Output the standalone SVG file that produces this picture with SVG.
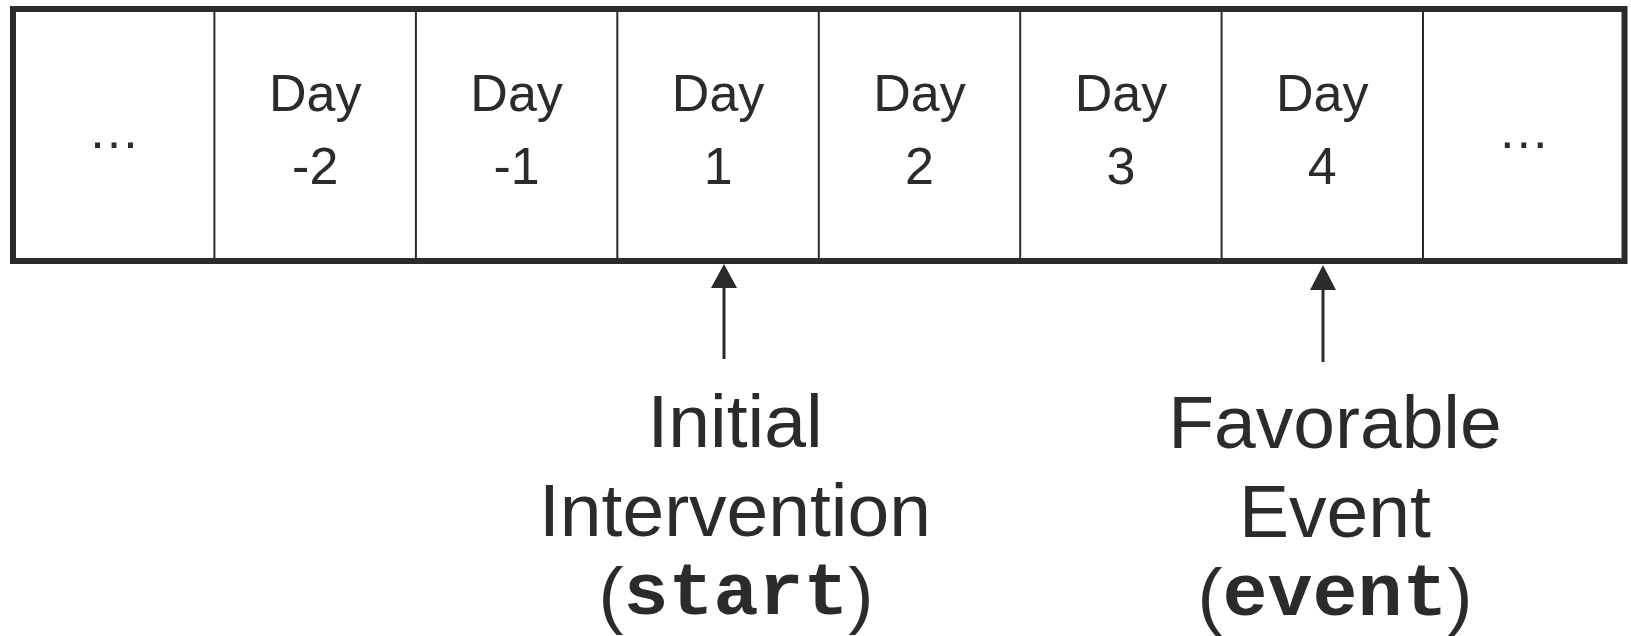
<svg xmlns="http://www.w3.org/2000/svg" width="1631" height="636" viewBox="0 0 1631 636">
<style>
.lbl{font-family:"Liberation Sans",Arial,sans-serif;fill:#2b2b2b;text-anchor:middle}
.day{font-size:52px}
.big{font-size:75px}
.code{font-family:"Courier New","Liberation Mono",monospace;font-weight:bold}
.div{stroke:#2b2b2b;stroke-width:2}
.conn{stroke:#2b2b2b;stroke-width:3;fill:none}
.head{fill:#2b2b2b}
</style>
<rect x="0" y="0" width="1631" height="636" fill="#ffffff"/>
<g id="timeline">
<rect x="13" y="9" width="1611.5" height="252" fill="#ffffff" stroke="#2b2b2b" stroke-width="6"/>
<line class="div" x1="214.4" y1="9" x2="214.4" y2="261"/>
<line class="div" x1="415.9" y1="9" x2="415.9" y2="261"/>
<line class="div" x1="617.3" y1="9" x2="617.3" y2="261"/>
<line class="div" x1="818.8" y1="9" x2="818.8" y2="261"/>
<line class="div" x1="1020.2" y1="9" x2="1020.2" y2="261"/>
<line class="div" x1="1221.6" y1="9" x2="1221.6" y2="261"/>
<line class="div" x1="1423" y1="9" x2="1423" y2="261"/>
</g>
<g id="cell-ellipsis-left"><text class="lbl day" x="114" y="148">…</text></g>
<g id="cell-day-m2"><text class="lbl day" x="315.2" y="111">Day</text><text class="lbl day" x="315.2" y="184">-2</text></g>
<g id="cell-day-m1"><text class="lbl day" x="516.6" y="111">Day</text><text class="lbl day" x="516.6" y="184">-1</text></g>
<g id="cell-day-1"><text class="lbl day" x="718.1" y="111">Day</text><text class="lbl day" x="718.1" y="184">1</text></g>
<g id="cell-day-2"><text class="lbl day" x="919.5" y="111">Day</text><text class="lbl day" x="919.5" y="184">2</text></g>
<g id="cell-day-3"><text class="lbl day" x="1120.9" y="111">Day</text><text class="lbl day" x="1120.9" y="184">3</text></g>
<g id="cell-day-4"><text class="lbl day" x="1322.3" y="111">Day</text><text class="lbl day" x="1322.3" y="184">4</text></g>
<g id="cell-ellipsis-right"><text class="lbl day" x="1523.8" y="148">…</text></g>
<g id="connectors">
<line class="conn" x1="724" y1="359" x2="724" y2="288"/>
<path class="head" d="M711,288 L724,264 L737,288 Z"/>
<line class="conn" x1="1323" y1="362" x2="1323" y2="290"/>
<path class="head" d="M1310,290 L1323,265 L1336,290 Z"/>
</g>
<g id="label-start">
<text class="lbl big" x="735" y="447">Initial</text>
<text class="lbl big" x="735" y="536">Intervention</text>
<text class="lbl big" x="736" y="620">(<tspan class="code" dy="-6">start</tspan><tspan dy="6">)</tspan></text>
</g>
<g id="label-event">
<text class="lbl big" x="1335" y="448">Favorable</text>
<text class="lbl big" x="1335" y="537">Event</text>
<text class="lbl big" x="1335" y="621">(<tspan class="code" dy="-6">event</tspan><tspan dy="6">)</tspan></text>
</g>
</svg>
